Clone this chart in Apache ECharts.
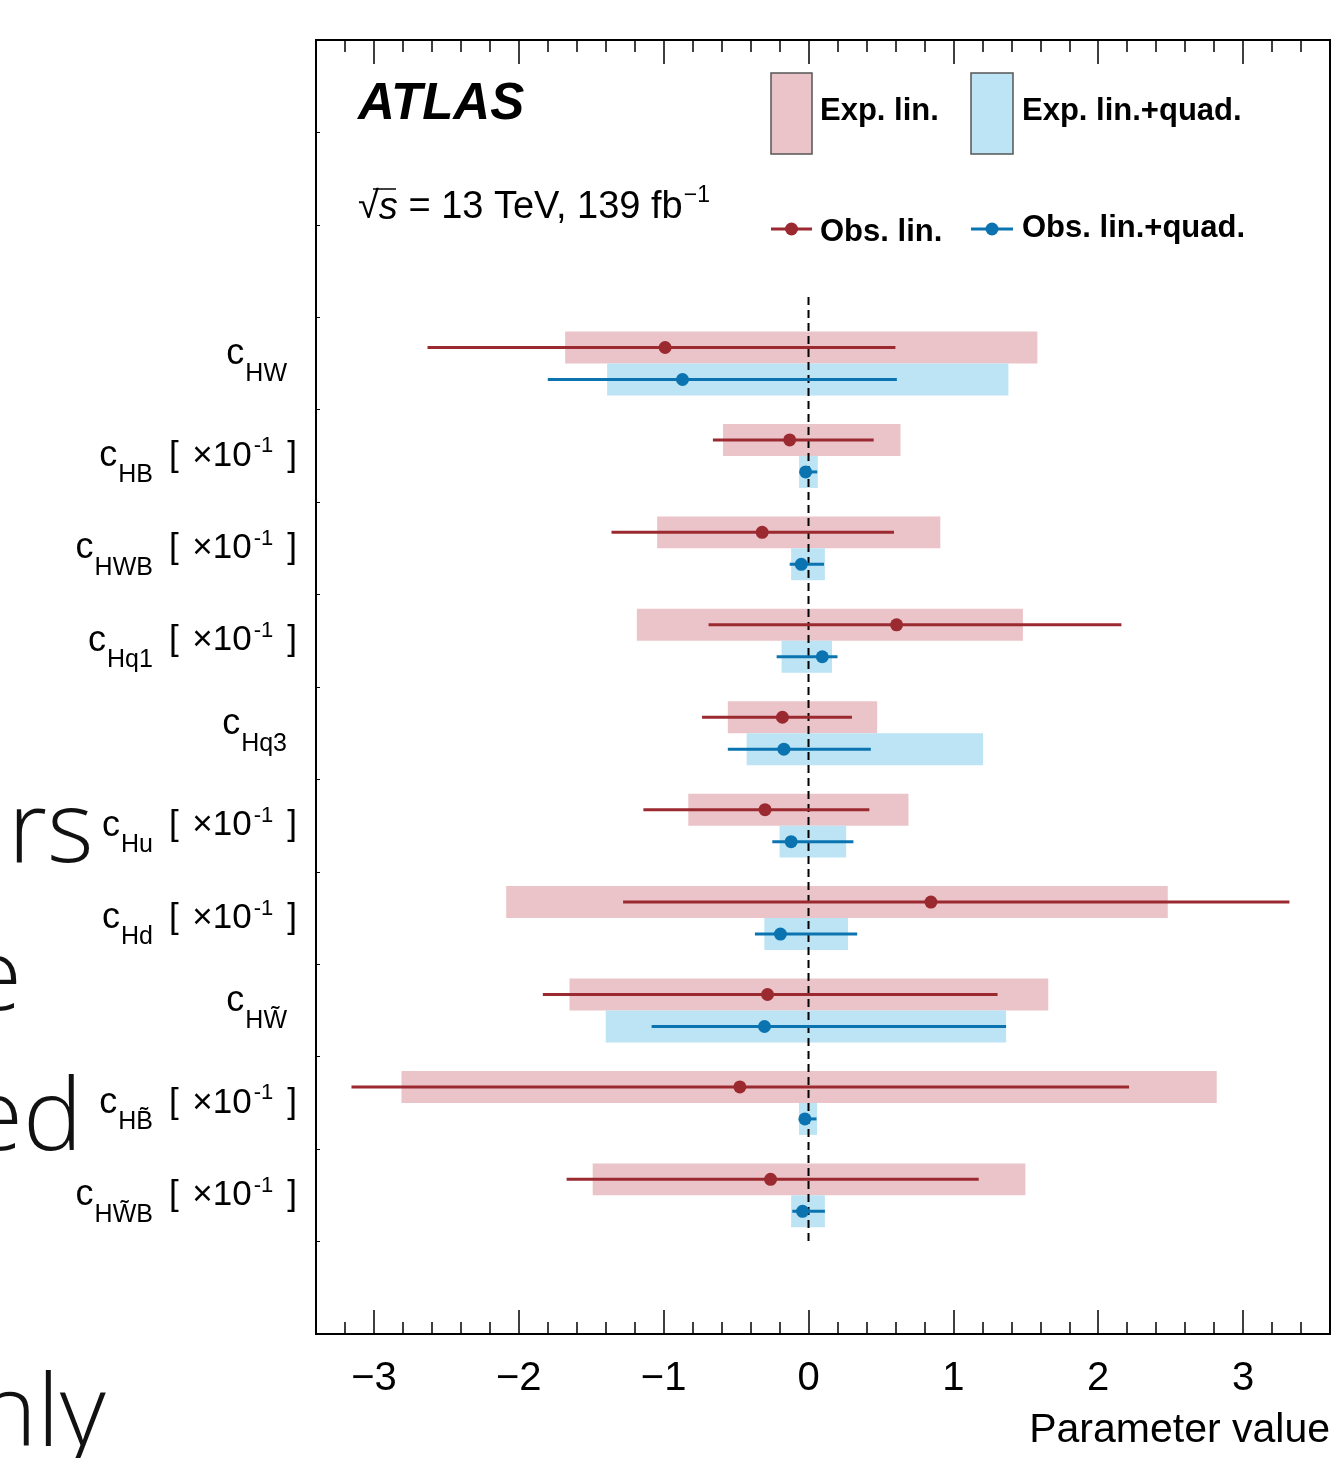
<!DOCTYPE html>
<html><head><meta charset="utf-8">
<script src="https://cdn.jsdelivr.net/npm/echarts@6/dist/echarts.min.js"></script>
<style>html,body{margin:0;padding:0;background:#fff}#c{width:1337px;height:1458px}</style>
</head><body><div id="c"></div>
<script>
// ---------------- data ----------------
const categories = ['cHW','cHB','cHWB','cHq1','cHq3','cHu','cHd','cHWtilde','cHBtilde','cHWtildeB'];
const MULT = '{b|[}{x| ×10}{u|-1}{e|]}';
const categoryLabels = [
  '{c2|c}{s2|HW}',
  '{c|c}{s|HB}' + MULT,
  '{c|c}{s|HWB}' + MULT,
  '{c|c}{s|Hq1}' + MULT,
  '{c2|c}{s2|Hq3}',
  '{c|c}{s|Hu}' + MULT,
  '{c|c}{s|Hd}' + MULT,
  '{c2|c}{s2|HW\u0303}',
  '{c|c}{s|HB\u0303}' + MULT,
  '{c|c}{s|HW\u0303B}' + MULT
];
const expLinLo  = [-1.68, -0.59, -1.045, -1.185, -0.557, -0.83, -2.087, -1.65, -2.81, -1.49];
const expLinHi  = [ 1.58,  0.635, 0.91,   1.48,   0.474,  0.69,  2.48,   1.655,  2.818, 1.497];
const expQuadLo = [-1.39, -0.065, -0.12, -0.186, -0.427, -0.20, -0.305, -1.40, -0.066, -0.12];
const expQuadHi = [ 1.38,  0.064,  0.113, 0.162,  1.205,  0.26,  0.273,  1.364,  0.059, 0.113];
const obsLin    = [-0.99, -0.13, -0.32,  0.608, -0.18, -0.30,  0.845, -0.283, -0.474, -0.262];
const obsLinLo  = [-2.63, -0.66, -1.36, -0.69,  -0.735, -1.14, -1.28, -1.834, -3.155, -1.67];
const obsLinHi  = [ 0.60,  0.45,  0.59,  2.16,   0.30,  0.42,  3.32,  1.305,  2.213,  1.175];
const obsQuad   = [-0.87, -0.02, -0.05,  0.095, -0.17, -0.12, -0.194, -0.304, -0.025, -0.041];
const obsQuadLo = [-1.80, -0.06, -0.13, -0.22,  -0.557, -0.25, -0.37, -1.083, -0.058, -0.112];
const obsQuadHi = [ 0.61,  0.06,  0.107, 0.20,   0.43,  0.31,  0.336, 1.364,  0.055,  0.113];
const xTickValues = [-3, -2, -1, 0, 1, 2, 3];
const xTickLabels = ['\u22123', '\u22122', '\u22121', '0', '1', '2', '3'];

// ---------------- layout / style ----------------
const FONT = '"Liberation Sans", Arial, Helvetica, sans-serif';
const SLIDE_FONT = '"Open Sans", Lato, sans-serif';
const RED = '#9b2a30', BLUE = '#0b74b0', PINK = '#eac4c8', LBLUE = '#bce4f5';
const TOP_EMPTY = 3;
const NSLOT = 14;
const HALF = 0.173, BOXH = 0.346;
const X_MIN = -3.4, X_MAX = 3.6, MINOR = 0.2;

const yCats = ['', ' ', '  '].concat(categoryLabels).concat(['   ']);
const idx = categories.map((c, i) => i);

function boxRender(fill, upper) {
  return function (params, api) {
    const lo = api.value(0), hi = api.value(1), c = api.value(2) + TOP_EMPTY + 0.5;
    const y0 = upper ? c - BOXH : c, y1 = upper ? c : c + BOXH;
    const p0 = api.coord([lo, y0]), p1 = api.coord([hi, y1]);
    return {type: 'rect', shape: {x: p0[0], y: p0[1], width: p1[0] - p0[0], height: p1[1] - p0[1]},
            style: {fill: fill}};
  };
}
function barRender(color, upper) {
  return function (params, api) {
    const lo = api.value(0), hi = api.value(1), c = api.value(2) + TOP_EMPTY + 0.5 + (upper ? -HALF : HALF);
    const p0 = api.coord([lo, c]), p1 = api.coord([hi, c]);
    return {type: 'line', shape: {x1: p0[0], y1: p0[1], x2: p1[0], y2: p1[1]},
            style: {stroke: color, lineWidth: 3}};
  };
}

const chart = echarts.init(document.getElementById('c'), null, {renderer: 'canvas'});

const tickStyle = {color: '#000', width: 1.5};
function xAxisDef(pos, major, withLabels) {
  const ax = {type: 'value', position: pos, min: X_MIN, max: X_MAX,
    axisLine: {show: false, onZero: false}, splitLine: {show: false},
    axisTick: {show: true, inside: true, length: major ? 24 : 12, lineStyle: tickStyle},
    axisLabel: {show: false}};
  if (major) ax.axisTick.customValues = xTickValues; else ax.interval = MINOR;
  if (withLabels) ax.axisLabel = {show: true, customValues: xTickValues, margin: 25, color: '#000',
    fontFamily: FONT, fontSize: 40, formatter: v => xTickLabels[xTickValues.indexOf(Math.round(v))] || ''};
  return ax;
}

const option = {
  animation: false,
  backgroundColor: '#fff',
  grid: {left: 316, right: 7, top: 40, bottom: 124, show: true, borderColor: '#000', borderWidth: 2, backgroundColor: 'transparent'},
  xAxis: [xAxisDef('bottom', false, true), xAxisDef('bottom', true, false), xAxisDef('top', false, false), xAxisDef('top', true, false)],
  yAxis: [
    {type: 'category', data: yCats, inverse: true, position: 'left',
     axisLine: {show: false, onZero: false}, splitLine: {show: false},
     axisTick: {show: true, inside: true, length: 4, lineStyle: {color: '#000', width: 1}},
     axisLabel: {show: true, margin: 19, interval: 0, align: 'right',
       rich: {
         c:  {fontFamily: FONT, fontSize: 36, color: '#000'},
         c2: {fontFamily: FONT, fontSize: 36, color: '#000', padding: [0, 0, 18, 0]},
         s:  {fontFamily: FONT, fontSize: 25, color: '#000', padding: [39, 0, 0, 1]},
         s2: {fontFamily: FONT, fontSize: 25, color: '#000', padding: [39, 10, 18, 1]},
         b:  {fontFamily: FONT, fontSize: 35, color: '#000', padding: [0, 0, 0, 16]},
         x:  {fontFamily: FONT, fontSize: 35, color: '#000', padding: [0, 0, 0, 4]},
         u:  {fontFamily: FONT, fontSize: 22, color: '#000', padding: [0, 0, 19, 2]},
         e:  {fontFamily: FONT, fontSize: 35, color: '#000', padding: [0, 0, 0, 14]}
       }}},
    {type: 'value', min: 0, max: NSLOT, inverse: true, show: false, axisLine: {onZero: false}}
  ],
  series: [
    {name: 'Exp. lin.', type: 'custom', xAxisIndex: 0, yAxisIndex: 1, renderItem: boxRender(PINK, true),
     encode: {x: [0, 1], y: 2}, data: idx.map(i => [expLinLo[i], expLinHi[i], i]), z: 1},
    {name: 'Exp. lin.+quad.', type: 'custom', xAxisIndex: 0, yAxisIndex: 1, renderItem: boxRender(LBLUE, false),
     encode: {x: [0, 1], y: 2}, data: idx.map(i => [expQuadLo[i], expQuadHi[i], i]), z: 1},
    {name: 'zero', type: 'custom', xAxisIndex: 0, yAxisIndex: 1, z: 2,
     renderItem: function (params, api) {
       const p0 = api.coord([api.value(0), 2.78]), p1 = api.coord([api.value(0), 13.04]);
       return {type: 'line', shape: {x1: p0[0], y1: p0[1], x2: p1[0], y2: p1[1]},
               style: {stroke: '#000', lineWidth: 2, lineDash: [8, 5]}};
     }, encode: {x: 0}, data: [[0]]},
    {name: 'Obs. lin. bars', type: 'custom', xAxisIndex: 0, yAxisIndex: 1, renderItem: barRender(RED, true),
     encode: {x: [0, 1], y: 2}, data: idx.map(i => [obsLinLo[i], obsLinHi[i], i]), z: 3},
    {name: 'Obs. lin.+quad. bars', type: 'custom', xAxisIndex: 0, yAxisIndex: 1, renderItem: barRender(BLUE, false),
     encode: {x: [0, 1], y: 2}, data: idx.map(i => [obsQuadLo[i], obsQuadHi[i], i]), z: 3},
    {name: 'Obs. lin.', type: 'scatter', xAxisIndex: 0, yAxisIndex: 1, symbolSize: 13, z: 4,
     itemStyle: {color: RED, opacity: 1}, data: idx.map(i => [obsLin[i], i + TOP_EMPTY + 0.5 - HALF])},
    {name: 'Obs. lin.+quad.', type: 'scatter', xAxisIndex: 0, yAxisIndex: 1, symbolSize: 13, z: 4,
     itemStyle: {color: BLUE, opacity: 1}, data: idx.map(i => [obsQuad[i], i + TOP_EMPTY + 0.5 + HALF])}
  ],
  graphic: {elements: [
    // slide text fragments behind the figure (left edge)
    {type: 'text', x: 8, y: 884, z: 0, style: {text: 'rs', fontFamily: SLIDE_FONT, fontWeight: 300, fontSize: 100, fill: '#111', verticalAlign: 'bottom'}},
    {type: 'text', x: -33, y: 1032, z: 0, style: {text: 'e', fontFamily: SLIDE_FONT, fontWeight: 300, fontSize: 100, fill: '#111', verticalAlign: 'bottom'}},
    {type: 'text', x: -32, y: 1172, z: 0, style: {text: 'ed', fontFamily: SLIDE_FONT, fontWeight: 300, fontSize: 100, fill: '#111', verticalAlign: 'bottom'}},
    {type: 'text', x: -22, y: 1468, z: 0, style: {text: 'nly', fontFamily: SLIDE_FONT, fontWeight: 300, fontSize: 100, fill: '#111', verticalAlign: 'bottom'}},
    // ATLAS label
    {type: 'text', x: 358, y: 105, style: {text: 'ATLAS', fontFamily: FONT, fontWeight: 'bold', fontStyle: 'italic', fontSize: 51, fill: '#000', verticalAlign: 'middle'}},
    {type: 'text', x: 358, y: 208, style: {text: '{r|\u221A}{i|s}{n| = 13 TeV, 139 fb}{u|\u22121}', fill: '#000', verticalAlign: 'middle',
      rich: {r: {fontFamily: FONT, fontSize: 38}, i: {fontFamily: FONT, fontSize: 38, fontStyle: 'italic'},
             n: {fontFamily: FONT, fontSize: 38}, u: {fontFamily: FONT, fontSize: 23, padding: [0, 0, 24, 1]}}}},
    {type: 'line', shape: {x1: 373, y1: 189, x2: 396, y2: 189}, style: {stroke: '#000', lineWidth: 1.5}},
    // legend boxes
    {type: 'rect', shape: {x: 771, y: 73, width: 41, height: 81}, style: {fill: PINK, stroke: '#555', lineWidth: 1.5}},
    {type: 'text', x: 820, y: 111, style: {text: 'Exp. lin.', fontFamily: FONT, fontWeight: 'bold', fontSize: 31, fill: '#000', verticalAlign: 'middle'}},
    {type: 'rect', shape: {x: 971, y: 73, width: 42, height: 81}, style: {fill: LBLUE, stroke: '#555', lineWidth: 1.5}},
    {type: 'text', x: 1022, y: 111, style: {text: 'Exp. lin.+quad.', fontFamily: FONT, fontWeight: 'bold', fontSize: 31, fill: '#000', verticalAlign: 'middle'}},
    // legend markers
    {type: 'line', shape: {x1: 771, y1: 229, x2: 812, y2: 229}, style: {stroke: RED, lineWidth: 3}},
    {type: 'circle', shape: {cx: 791.5, cy: 229, r: 6.5}, style: {fill: RED}},
    {type: 'text', x: 820, y: 232, style: {text: 'Obs. lin.', fontFamily: FONT, fontWeight: 'bold', fontSize: 31, fill: '#000', verticalAlign: 'middle'}},
    {type: 'line', shape: {x1: 971, y1: 229, x2: 1013, y2: 229}, style: {stroke: BLUE, lineWidth: 3}},
    {type: 'circle', shape: {cx: 992, cy: 229, r: 6.5}, style: {fill: BLUE}},
    {type: 'text', x: 1022, y: 228, style: {text: 'Obs. lin.+quad.', fontFamily: FONT, fontWeight: 'bold', fontSize: 31, fill: '#000', verticalAlign: 'middle'}},
    // axis title
    {type: 'text', x: 1330, y: 1431, style: {text: 'Parameter value', fontFamily: FONT, fontSize: 41, fill: '#000', align: 'right', verticalAlign: 'middle'}}
  ]}
};
chart.setOption(option);
</script>
</body></html>
